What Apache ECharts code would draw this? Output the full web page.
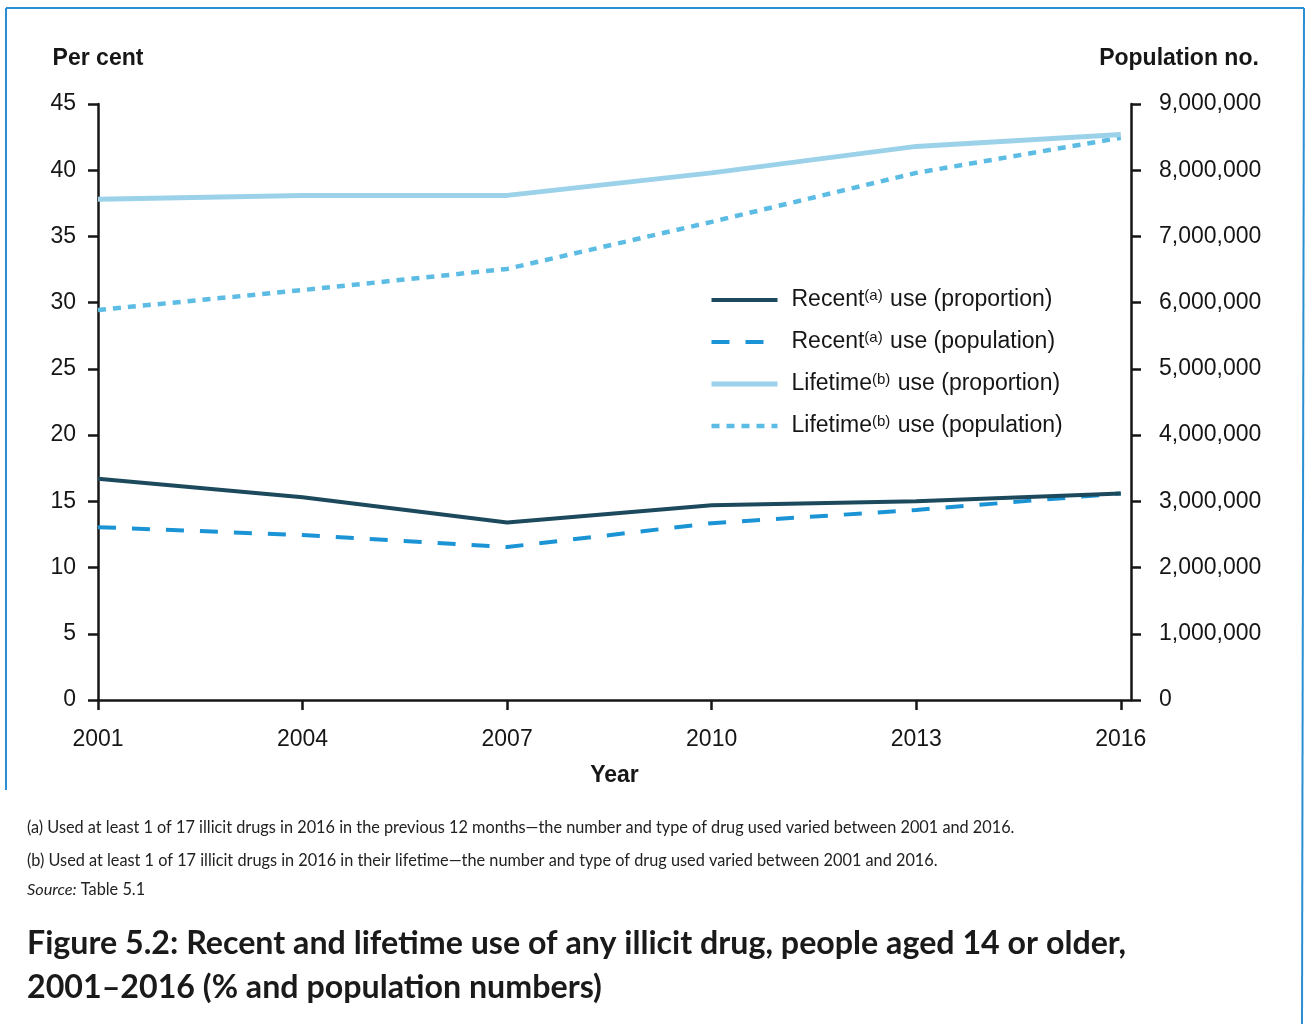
<!DOCTYPE html>
<html>
<head>
<meta charset="utf-8">
<title>Figure 5.2</title>
<script src="https://cdn.jsdelivr.net/npm/echarts@6/dist/echarts.min.js"></script>
<style>
  html, body { margin: 0; padding: 0; background: #fff; }
  #main { width: 1312px; height: 1024px; }
</style>
</head>
<body>
<div id="main"></div>
<script>
// survey years
var years = [2001, 2004, 2007, 2010, 2013, 2016];

// per cent (left axis)
var recentProportion = [16.7, 15.3, 13.4, 14.7, 15.0, 15.6];
var lifetimeProportion = [37.8, 38.1, 38.1, 39.8, 41.8, 42.7];

// population numbers (right axis)
var recentPopulation = [2610000, 2490000, 2310000, 2670000, 2870000, 3120000];
var lifetimePopulation = [5890000, 6190000, 6510000, 7220000, 7960000, 8490000];

var seriesNames = [
  'Recent{sup|(a)} use (proportion)',
  'Recent{sup|(a)} use (population)',
  'Lifetime{sup|(b)} use (proportion)',
  'Lifetime{sup|(b)} use (population)'
];

var colors = ['#1c4a5c', '#1b94d6', '#9bd2ea', '#5cbce4'];
var widths = [4, 4, 5, 4.5];
var dashes = ['solid', [18, 16], 'solid', [8, 7]];

function pairs(vals) {
  return years.map(function (y, i) { return [y, vals[i]]; });
}

function commas(v) {
  return String(v).replace(/\B(?=(\d{3})+(?!\d))/g, ',');
}

var chartDom = document.getElementById('main');
var myChart = echarts.init(chartDom);
var option;

var axisFont = 'Liberation Sans, Arial, sans-serif';
var ink = '#161616';

option = {
  backgroundColor: '#ffffff',
  animation: false,
  textStyle: { fontFamily: axisFont },
  grid: { left: 98, right: 181, top: 104, bottom: 324, containLabel: false },
  legend: {
    orient: 'vertical',
    left: 704,
    top: 283,
    itemWidth: 66,
    itemHeight: 14,
    itemGap: 18,
    itemStyle: { opacity: 0 },
    data: seriesNames.map(function (n, i) {
      return { name: n, lineStyle: { color: colors[i], width: widths[i], type: dashes[i], opacity: 1 } };
    }),
    textStyle: {
      fontSize: 23,
      color: ink,
      fontFamily: axisFont,
      lineHeight: 24,
      padding: [0, 0, 0, 9],
      rich: {
        sup: { fontSize: 15, color: ink, fontFamily: axisFont, verticalAlign: 'top', lineHeight: 24, padding: [0, 1, 8, 0] }
      }
    }
  },
  xAxis: {
    type: 'value',
    min: 2001,
    max: 2016.15,
    name: 'Year',
    nameLocation: 'middle',
    nameGap: 64,
    nameTextStyle: { fontSize: 23, fontWeight: 'bold', color: ink },
    splitLine: { show: false },
    axisLine: { lineStyle: { color: ink, width: 2.5 } },
    axisTick: { customValues: years, length: 10, lineStyle: { color: ink, width: 2.5 } },
    axisLabel: { customValues: years, fontSize: 23, color: ink, margin: 28, formatter: function (v) { return String(v); } }
  },
  yAxis: [
    {
      type: 'value',
      min: 0,
      max: 45,
      interval: 5,
      name: 'Per cent',
      nameGap: 34,
      nameTextStyle: { fontSize: 23, fontWeight: 'bold', color: ink },
      splitLine: { show: false },
      axisLine: { show: true, lineStyle: { color: ink, width: 2.5 } },
      axisTick: { show: true, length: 10, lineStyle: { color: ink, width: 2.5 } },
      axisLabel: { fontSize: 23, color: ink, margin: 22 }
    },
    {
      type: 'value',
      min: 0,
      max: 9000000,
      interval: 1000000,
      position: 'right',
      name: 'Population no.',
      nameGap: 34,
      nameTextStyle: { fontSize: 23, fontWeight: 'bold', color: ink, padding: [0, 0, 0, 96] },
      splitLine: { show: false },
      axisLine: { show: true, lineStyle: { color: ink, width: 2.5 } },
      axisTick: { show: true, length: 10, lineStyle: { color: ink, width: 2.5 } },
      axisLabel: { fontSize: 23, color: ink, margin: 28, formatter: commas }
    }
  ],
  series: [
    {
      name: seriesNames[0],
      type: 'line',
      yAxisIndex: 0,
      symbol: 'none',
      data: pairs(recentProportion),
      lineStyle: { color: colors[0], width: widths[0] },
      itemStyle: { color: colors[0] },
      z: 5
    },
    {
      name: seriesNames[1],
      type: 'line',
      yAxisIndex: 1,
      symbol: 'none',
      data: pairs(recentPopulation),
      lineStyle: { color: colors[1], width: widths[1], type: dashes[1] },
      itemStyle: { color: colors[1] },
      z: 4
    },
    {
      name: seriesNames[2],
      type: 'line',
      yAxisIndex: 0,
      symbol: 'none',
      data: pairs(lifetimeProportion),
      lineStyle: { color: colors[2], width: widths[2] },
      itemStyle: { color: colors[2] },
      z: 3
    },
    {
      name: seriesNames[3],
      type: 'line',
      yAxisIndex: 1,
      symbol: 'none',
      data: pairs(lifetimePopulation),
      lineStyle: { color: colors[3], width: widths[3], type: dashes[3] },
      itemStyle: { color: colors[3] },
      z: 2
    }
  ],
  graphic: [
    // page frame
    { type: 'line', shape: { x1: 6, y1: 8, x2: 1304, y2: 8 }, style: { stroke: '#2a8fd2', lineWidth: 2 } },
    { type: 'line', shape: { x1: 6, y1: 8, x2: 6, y2: 790 }, style: { stroke: '#2a8fd2', lineWidth: 2 } },
    { type: 'line', shape: { x1: 1304, y1: 8, x2: 1302, y2: 1024 }, style: { stroke: '#2a8fd2', lineWidth: 2 } },
    // footnotes
    {
      type: 'text', left: 27, top: 820,
      style: { text: '(a) Used at least 1 of 17 illicit drugs in 2016 in the previous 12 months\u2014the number and type of drug used varied between 2001 and 2016.',
        font: '16.3px Lato, sans-serif', fill: '#222' }
    },
    {
      type: 'text', left: 27, top: 853,
      style: { text: '(b) Used at least 1 of 17 illicit drugs in 2016 in their lifetime\u2014the number and type of drug used varied between 2001 and 2016.',
        font: '16.3px Lato, sans-serif', fill: '#222' }
    },
    {
      type: 'text', left: 27, top: 882,
      style: { text: '{i|Source:} Table 5.1', font: '16.3px Lato, sans-serif', fill: '#222',
        rich: { i: { fontStyle: 'italic', fontFamily: 'Lato, sans-serif', fontSize: 16.3, fill: '#222' } } }
    },
    // figure caption
    {
      type: 'text', left: 27, top: 922,
      style: { text: 'Figure 5.2: Recent and lifetime use of any illicit drug, people aged 14 or older,\n2001\u20132016 (% and population numbers)',
        font: 'bold 32.2px Lato, sans-serif', lineHeight: 44, fill: '#1a1a1a' }
    }
  ]
};

option && myChart.setOption(option);
</script>
</body>
</html>
